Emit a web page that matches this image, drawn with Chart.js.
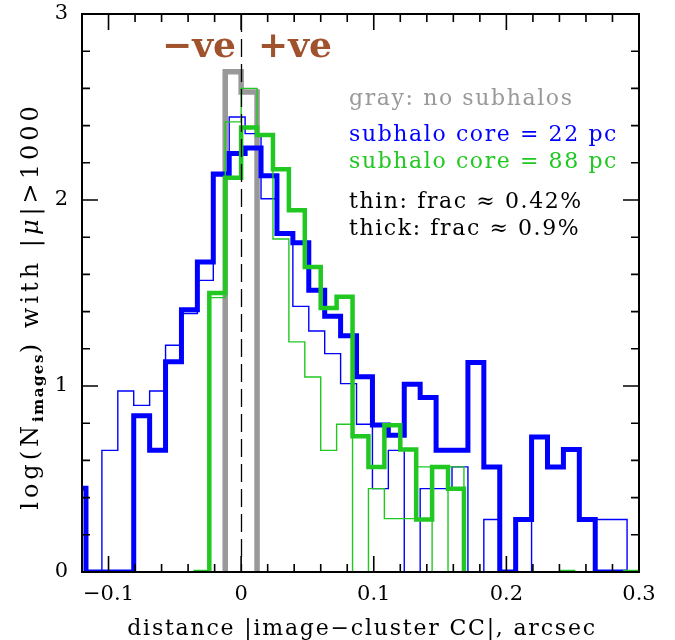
<!DOCTYPE html>
<html>
<head>
<meta charset="utf-8">
<script src="https://cdn.jsdelivr.net/npm/chart.js@4.4.1/dist/chart.umd.min.js"></script>
<style>
  html, body { margin: 0; padding: 0; background: #fff; }
  #wrap { width: 675px; height: 640px; }
</style>
</head>
<body>
<div id="wrap"><canvas id="histChart" width="675" height="640"></canvas></div>
<script>
// histogram bin width (arcsec); null = empty bin (not drawn)
const BIN_WIDTH = 0.012;

// subhalo core = 22 pc (blue)
const blueStart = -0.129;
const blueThick = [0.45, 0, 0, 0, 0.84, 0.654, 1.13, 1.41, 1.667, 2.14, 2.25, 2.28,
  2.13, 1.82, 1.77, 1.515, 1.375, 1.27, 1.05, 0.79, 0.735, 1.009, 0.938, 0.654,
  0.654, 1.126, 0.565, 0, 0.282, 0.726, 0.565, 0.658, 0.282, 0, 0, null];
const blueThin = [null, 0, 0.654, 0.973, 0.896, 0.973, 1.219, 1.39, 1.568, 2.13, 2.446, 2.357,
  2.007, 1.82, 1.428, 1.296, 1.174, 1.013, 0.794, 0.448, 0.654, 0, 0.448, 0.448,
  0.565, 0, 0.282, 0, 0.282, 0, 0, 0, 0, 0.282, 0.282, 0];

// subhalo core = 88 pc (green)
const greenStart = -0.036;
const greenThick = [0, 1.50, 2.12, 2.39, 2.35, 2.165, 1.945, 1.64, 1.42, 1.48, 0.73, 0.565,
  0.789, 0.658, 0.282, 0.565, 0.448, null, null, null, null, null, null, 0,
  null, null, null, 0];
const greenThin = [0, 1.475, 2.42, 2.60, 2.35, 1.79, 1.237, 1.048, 0.654, 0.794, 0, 0.448,
  0.287, 0.287, 0.565, 0, 0.565];

// no subhalos (gray)
const grayStart = -0.012;
const grayThick = [2.69, 2.58];

const xTicks = [-0.1, 0, 0.1, 0.2, 0.3];
const yTicks = [0, 1, 2, 3];

const BLUE = '#0000ff';
const GREEN = '#22c822';
const GRAY = '#999999';
const BROWN = '#a0522d';
const SERIF = '"DejaVu Serif", serif';

// turn bin values into the corner points of a step outline
function stepPoints(start, values) {
  const pts = [];
  let open = false;
  values.forEach((v, i) => {
    const x0 = start + i * BIN_WIDTH;
    const x1 = x0 + BIN_WIDTH;
    if (v === null) {
      if (open) {
        pts.push({ x: x0, y: 0 });
        pts.push({ x: x0, y: null });
      }
      open = false;
      return;
    }
    if (!open) pts.push({ x: x0, y: 0 });
    pts.push({ x: x0, y: v }, { x: x1, y: v });
    open = true;
  });
  if (open) pts.push({ x: start + values.length * BIN_WIDTH, y: 0 });
  return pts;
}

function histSet(label, start, values, color, width, order) {
  return {
    label: label,
    data: stepPoints(start, values),
    borderColor: color,
    borderWidth: width,
    pointRadius: 0,
    fill: false,
    tension: 0,
    spanGaps: false,
    borderJoinStyle: 'miter',
    clip: 0,
    order: order
  };
}

function fmtTick(v) {
  if (v === 0) return '0';
  return (v < 0 ? '\u2212' : '') + Math.abs(v).toString();
}

// frame, inward ticks on all four sides, zero line and text labels
const decorations = {
  id: 'decorations',
  afterDatasetsDraw(chart) {
    const { ctx, chartArea: a, scales: { x, y } } = chart;
    ctx.save();

    // dashed line at zero distance
    ctx.strokeStyle = '#000';
    ctx.lineWidth = 1.3;
    ctx.setLineDash([18, 7]);
    const x0 = Math.round(x.getPixelForValue(0)) + 0.5;
    ctx.beginPath();
    ctx.moveTo(x0, a.top);
    ctx.lineTo(x0, a.bottom);
    ctx.stroke();
    ctx.setLineDash([]);

    // ticks
    ctx.lineWidth = 1.6;
    ctx.beginPath();
    for (let k = -6; k <= 15; k++) {
      const px = x.getPixelForValue(k * 0.02);
      const len = k % 5 === 0 ? 16 : 8;
      ctx.moveTo(px, a.bottom); ctx.lineTo(px, a.bottom - len);
      ctx.moveTo(px, a.top); ctx.lineTo(px, a.top + len);
    }
    for (let k = 0; k <= 15; k++) {
      const py = y.getPixelForValue(k * 0.2);
      const len = k % 5 === 0 ? 16 : 8;
      ctx.moveTo(a.left, py); ctx.lineTo(a.left + len, py);
      ctx.moveTo(a.right, py); ctx.lineTo(a.right - len, py);
    }
    ctx.stroke();

    // frame
    ctx.lineWidth = 2;
    ctx.strokeRect(a.left, a.top, a.right - a.left, a.bottom - a.top);

    // y tick labels
    ctx.fillStyle = '#000';
    ctx.font = '21px ' + SERIF;
    ctx.textAlign = 'right';
    ctx.textBaseline = 'middle';
    yTicks.forEach(v => ctx.fillText(fmtTick(v), a.left - 14, y.getPixelForValue(v)));

    // side labels
    ctx.textBaseline = 'alphabetic';
    ctx.textAlign = 'left';
    ctx.fillStyle = BROWN;
    ctx.font = 'bold 36px ' + SERIF;
    ctx.fillText('\u2212ve', 162, 57);
    ctx.fillText('+ve', 258, 57);

    // key
    ctx.font = '22px ' + SERIF;
    ctx.letterSpacing = '1.6px';
    ctx.fillStyle = GRAY;
    ctx.fillText('gray: no subhalos', 349, 105);
    ctx.fillStyle = BLUE;
    ctx.fillText('subhalo core = 22 pc', 349, 141);
    ctx.fillStyle = GREEN;
    ctx.fillText('subhalo core = 88 pc', 349, 168);
    ctx.fillStyle = '#000';
    ctx.fillText('thin: frac \u2248 0.42%', 349, 208);
    ctx.fillText('thick: frac \u2248 0.9%', 349, 235);

    // x title
    ctx.font = '22px ' + SERIF;
    ctx.letterSpacing = '1.8px';
    ctx.textAlign = 'center';
    ctx.fillText('distance |image\u2212cluster CC|, arcsec', 362, 635);

    // y title with subscript
    ctx.translate(38, 306);
    ctx.rotate(-Math.PI / 2);
    const parts = [
      ['log(N', '24px ' + SERIF, 0, '4px'],
      ['images', 'bold 15px ' + SERIF, 5, '1.5px'],
      [') with |', '24px ' + SERIF, 0, '4px'],
      ['\u03bc', 'italic 24px ' + SERIF, 0, '4px'],
      ['|>1000', '24px ' + SERIF, 0, '4px']
    ];
    let total = 0;
    parts.forEach(p => {
      ctx.font = p[1]; ctx.letterSpacing = p[3];
      total += ctx.measureText(p[0]).width;
    });
    let cx = -total / 2;
    ctx.textAlign = 'left';
    parts.forEach(p => {
      ctx.font = p[1]; ctx.letterSpacing = p[3];
      ctx.fillText(p[0], cx, p[2]);
      cx += ctx.measureText(p[0]).width;
    });

    ctx.restore();
  }
};

new Chart(document.getElementById('histChart'), {
  type: 'line',
  data: {
    datasets: [
      histSet('88 pc thick', greenStart, greenThick, GREEN, 4.5, 0),
      histSet('88 pc thin', greenStart, greenThin, GREEN, 1.4, 1),
      histSet('22 pc thick', blueStart, blueThick, BLUE, 5, 2),
      histSet('22 pc thin', blueStart, blueThin, BLUE, 1.4, 3),
      histSet('no subhalos', grayStart, grayThick, GRAY, 5.5, 4)
    ]
  },
  options: {
    responsive: false,
    animation: false,
    devicePixelRatio: 1,
    layout: { padding: { top: 14, right: 36, left: 0, bottom: 0 } },
    plugins: { legend: { display: false }, tooltip: { enabled: false } },
    scales: {
      x: {
        type: 'linear',
        min: -0.12,
        max: 0.3,
        afterBuildTicks: s => { s.ticks = xTicks.map(v => ({ value: v })); },
        afterFit: s => { s.height = 68; },
        grid: { display: false, drawTicks: false },
        border: { display: false },
        ticks: {
          color: '#000',
          font: { family: SERIF, size: 21 },
          padding: 10,
          maxRotation: 0,
          callback: v => fmtTick(v)
        }
      },
      y: {
        type: 'linear',
        min: 0,
        max: 3,
        afterBuildTicks: s => { s.ticks = yTicks.map(v => ({ value: v })); },
        afterFit: s => { s.width = 82; },
        grid: { display: false, drawTicks: false },
        border: { display: false },
        ticks: { display: false }
      }
    }
  },
  plugins: [decorations]
});
</script>
</body>
</html>
